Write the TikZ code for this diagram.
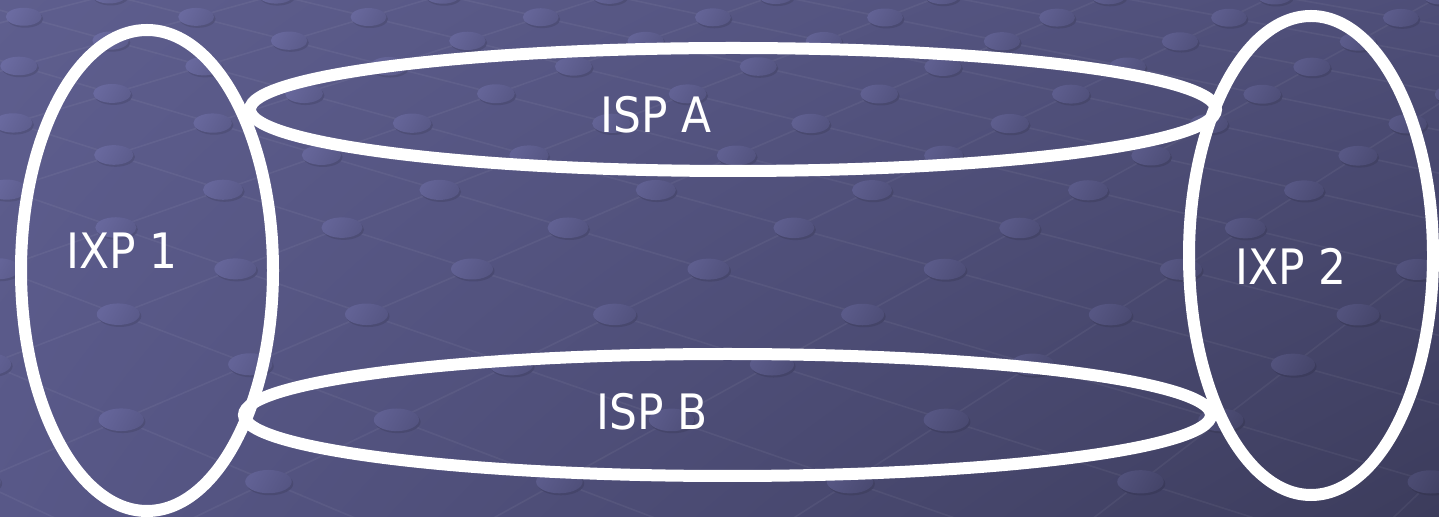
\documentclass[tikz,border=0pt]{standalone}
\usepackage{fontspec}
\setmainfont{DejaVu Sans}[FakeStretch=0.9]
\usetikzlibrary{shapes.geometric,shadings}
\definecolor{bgUL}{RGB}{94,94,142}
\definecolor{bgUR}{RGB}{78,78,120}
\definecolor{bgLL}{RGB}{88,88,136}
\definecolor{bgLR}{RGB}{60,60,92}
\begin{document}
\begin{tikzpicture}[x=0.5pt,y=-0.5pt,
  ring/.style={draw=white, line width=6pt, ellipse, inner sep=0pt, outer sep=0pt},
  lbl/.style={text=white, font=\fontsize{24.4}{29}\selectfont, inner sep=0pt, anchor=base},
  gridline/.style={draw=white, draw opacity=0.05, line width=0.8pt}]
\useasboundingbox (0,0) rectangle (1439,517);
\begin{scope}
  \clip (0,0) rectangle (1439,517);
  \shade[upper left=bgUL, upper right=bgUR, lower left=bgLL, lower right=bgLR] (0,0) rectangle (1439,517);
  % perspective grid lines
  \foreach \i in {-8,...,7} {
    \pgfmathsetmacro\dA{1-0.0465*\i-0.0468*6}
    \pgfmathsetmacro\xA{(114.1*\i-122.6*6+472)/\dA}
    \pgfmathsetmacro\yA{(30.8*\i+30.6*6+269)/\dA}
    \pgfmathsetmacro\dB{1-0.0465*\i+0.0468*13}
    \pgfmathsetmacro\xB{(114.1*\i+122.6*13+472)/\dB}
    \pgfmathsetmacro\yB{(30.8*\i-30.6*13+269)/\dB}
    \draw[gridline] (\xA,\yA) -- (\xB,\yB);
  }
  \foreach \j in {-6,...,13} {
    \pgfmathsetmacro\dA{1+0.0465*8+0.0468*\j}
    \pgfmathsetmacro\xA{(-114.1*8+122.6*\j+472)/\dA}
    \pgfmathsetmacro\yA{(-30.8*8-30.6*\j+269)/\dA}
    \pgfmathsetmacro\dB{1-0.0465*7+0.0468*\j}
    \pgfmathsetmacro\xB{(114.1*7+122.6*\j+472)/\dB}
    \pgfmathsetmacro\yB{(30.8*7-30.6*\j+269)/\dB}
    \draw[gridline] (\xA,\yA) -- (\xB,\yB);
  }
  % dots at grid crossings
  \foreach \i in {-8,...,7} {
    \foreach \j in {-6,...,13} {
      \pgfmathsetmacro\d{1-0.0465*\i+0.0468*\j}
      \pgfmathsetmacro\px{(114.1*\i+122.6*\j+472)/\d}
      \pgfmathsetmacro\py{(30.8*\i-30.6*\j+269)/\d}
      \pgfmathsetmacro\rx{10.5/sqrt(\d)}
      \pgfmathsetmacro\ry{0.5*\rx}
      \pgfmathsetmacro\uu{min(max(\px/1439,0),1)}
      \pgfmathsetmacro\vv{min(max(\py/517,0),1)}
      \pgfmathsetmacro\cr{94*(1-\uu)*(1-\vv)+78*\uu*(1-\vv)+88*(1-\uu)*\vv+60*\uu*\vv}
      \pgfmathsetmacro\cb{142*(1-\uu)*(1-\vv)+120*\uu*(1-\vv)+136*(1-\uu)*\vv+92*\uu*\vv}
      \pgfmathsetmacro\lr{min((\cr+14)/255,1)}
      \pgfmathsetmacro\lb{min((\cb+20)/255,1)}
      \pgfmathsetmacro\mr{(\cr+2)/255}
      \pgfmathsetmacro\mb{(\cb+3)/255}
      \pgfmathsetmacro\sr{0.89*\cr/255}
      \pgfmathsetmacro\sb{0.89*\cb/255}
      \definecolor{dotlt}{rgb}{\lr,\lr,\lb}
      \definecolor{dotmd}{rgb}{\mr,\mr,\mb}
      \definecolor{dotsh}{rgb}{\sr,\sr,\sb}
      \fill[dotsh] (\px+1.5,\py+2) ellipse [x radius=\rx pt, y radius=\ry pt];
      \shade[left color=dotlt, right color=dotmd, shading angle=60] (\px,\py) ellipse [x radius=\rx pt, y radius=\ry pt];
    }
  }
\end{scope}
% rings
\node[ring, minimum width=126pt, minimum height=240.5pt] (ixp1) at (147,270.5) {};
\node[ring, minimum width=122pt, minimum height=239.5pt] (ixp2) at (1311,255.5) {};
\node[ring, minimum width=483pt, minimum height=61.5pt] (ispa) at (733,109.5) {};
\node[ring, minimum width=483.5pt, minimum height=61pt] (ispb) at (727.5,415) {};
% labels
\node[lbl] (lixp1) at (122,269) {IXP 1};
\node[lbl] (lispa) at (656,133) {ISP A};
\node[lbl] (lispb) at (652,430) {ISP B};
\node[lbl] (lixp2) at (1291,285) {IXP 2};
\end{tikzpicture}
\end{document}
